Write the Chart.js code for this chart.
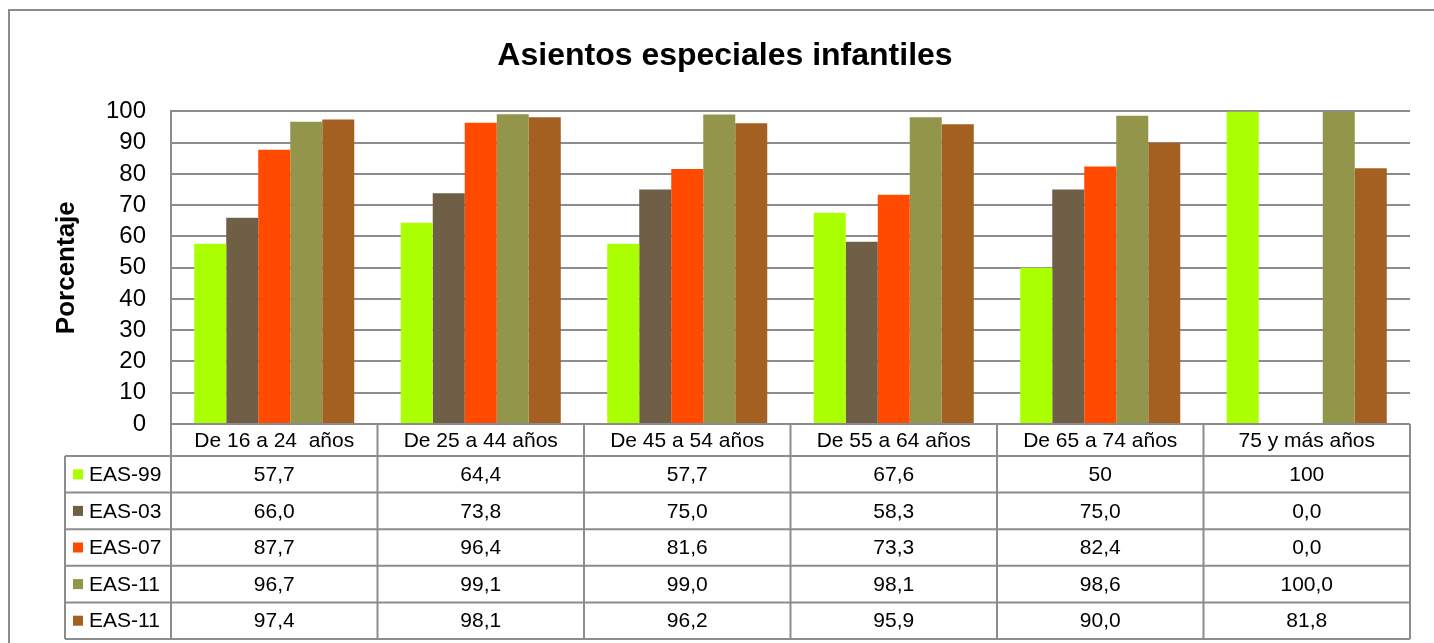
<!DOCTYPE html>
<html>
<head>
<meta charset="utf-8">
<script src="https://cdn.jsdelivr.net/npm/chart.js@4/dist/chart.umd.min.js"></script>
<style>
  body { margin: 0; background: #fff; }
  canvas { display: block; }
</style>
</head>
<body>
<canvas id="chart" width="1434" height="643"></canvas>
<script>
const categories = ["De 16 a 24  años", "De 25 a 44 años", "De 45 a 54 años", "De 55 a 64 años", "De 65 a 74 años", "75 y más años"];
const eas99 = [57.7, 64.4, 57.7, 67.6, 50, 100];
const eas03 = [66.0, 73.8, 75.0, 58.3, 75.0, 0.0];
const eas07 = [87.7, 96.4, 81.6, 73.3, 82.4, 0.0];
const eas11 = [96.7, 99.1, 99.0, 98.1, 98.6, 100.0];
const eas11b = [97.4, 98.1, 96.2, 95.9, 90.0, 81.8];
const yTicks = [0, 10, 20, 30, 40, 50, 60, 70, 80, 90, 100];

const gridGrey = "#8c8c8c";
const fontFam = "'Liberation Sans', Arial, sans-serif";

const series = [
  { label: "EAS-99", data: eas99, color: "#aaff00", fixed: false },
  { label: "EAS-03", data: eas03, color: "#6f5f47", fixed: true },
  { label: "EAS-07", data: eas07, color: "#ff4a00", fixed: true },
  { label: "EAS-11", data: eas11, color: "#93964a", fixed: true },
  { label: "EAS-11", data: eas11b, color: "#a46020", fixed: true },
];

const fmt = (v, fixed) => (fixed ? v.toFixed(1) : String(v)).replace(".", ",");

// outer frame + data table under the plot
const tablePlugin = {
  id: "dataTable",
  beforeDraw(chart) {
    const ctx = chart.ctx;
    ctx.save();
    ctx.strokeStyle = gridGrey;
    ctx.lineWidth = 2;
    ctx.strokeRect(9, 10, 1440, 700);
    ctx.restore();
  },
  afterDraw(chart) {
    const ctx = chart.ctx;
    const area = chart.chartArea;
    const x = chart.scales.x;
    const n = categories.length;
    const colW = (area.right - area.left) / n;
    const legLeft = 65;
    const catTop = area.bottom;
    const catBottom = catTop + 32;
    const rowH = 36.6;
    const tableBottom = catBottom + rowH * series.length;

    ctx.save();
    ctx.strokeStyle = gridGrey;
    ctx.lineWidth = 2;
    ctx.beginPath();
    // horizontal lines
    ctx.moveTo(area.left, catTop);
    ctx.lineTo(area.right, catTop);
    for (let r = 0; r <= series.length; r++) {
      const y = catBottom + r * rowH;
      ctx.moveTo(legLeft, y);
      ctx.lineTo(area.right, y);
    }
    // vertical lines
    for (let c = 0; c <= n; c++) {
      const xx = area.left + c * colW;
      ctx.moveTo(xx, catTop);
      ctx.lineTo(xx, tableBottom);
    }
    ctx.moveTo(legLeft, catBottom);
    ctx.lineTo(legLeft, tableBottom);
    ctx.stroke();

    ctx.fillStyle = "#000";
    ctx.font = "21px " + fontFam;
    ctx.textAlign = "center";
    ctx.textBaseline = "middle";
    categories.forEach((c, i) => {
      ctx.fillText(c, x.getPixelForValue(i), (catTop + catBottom) / 2 + 1);
    });
    series.forEach((s, r) => {
      const yc = catBottom + r * rowH + rowH / 2 + 1;
      ctx.fillStyle = s.color;
      ctx.fillRect(73, yc - 6, 10, 10);
      ctx.fillStyle = "#000";
      ctx.textAlign = "left";
      ctx.fillText(s.label, 89, yc);
      ctx.textAlign = "center";
      s.data.forEach((v, i) => {
        ctx.fillText(fmt(v, s.fixed), x.getPixelForValue(i), yc);
      });
    });
    ctx.restore();
  },
};

new Chart(document.getElementById("chart"), {
  type: "bar",
  data: {
    labels: categories,
    datasets: series.map((s) => ({
      label: s.label,
      data: s.data,
      backgroundColor: s.color,
      borderWidth: 0,
      categoryPercentage: 0.775,
      barPercentage: 1,
    })),
  },
  options: {
    responsive: false,
    animation: false,
    layout: { padding: { left: 40, right: 24, top: 0, bottom: 219 } },
    plugins: {
      legend: { display: false },
      tooltip: { enabled: false },
      title: {
        display: true,
        text: "Asientos especiales infantiles",
        color: "#000",
        font: { family: fontFam, size: 32, weight: "bold" },
        padding: { top: 37, bottom: 36 },
      },
    },
    scales: {
      x: {
        display: false,
      },
      y: {
        min: 0,
        max: 100,
        afterBuildTicks: (scale) => {
          scale.ticks = yTicks.map((v) => ({ value: v }));
        },
        afterFit: (scale) => {
          scale.width = 131;
        },
        ticks: {
          color: "#000",
          padding: 25,
          autoSkip: false,
          font: { family: fontFam, size: 24 },
        },
        grid: { color: gridGrey, lineWidth: 2, drawTicks: false },
        border: { display: true, color: gridGrey, width: 2 },
        title: {
          display: true,
          text: "Porcentaje",
          color: "#000",
          font: { family: fontFam, size: 26, weight: "bold" },
          padding: { top: 11, bottom: 0 },
        },
      },
    },
  },
  plugins: [tablePlugin],
});
</script>
</body>
</html>
